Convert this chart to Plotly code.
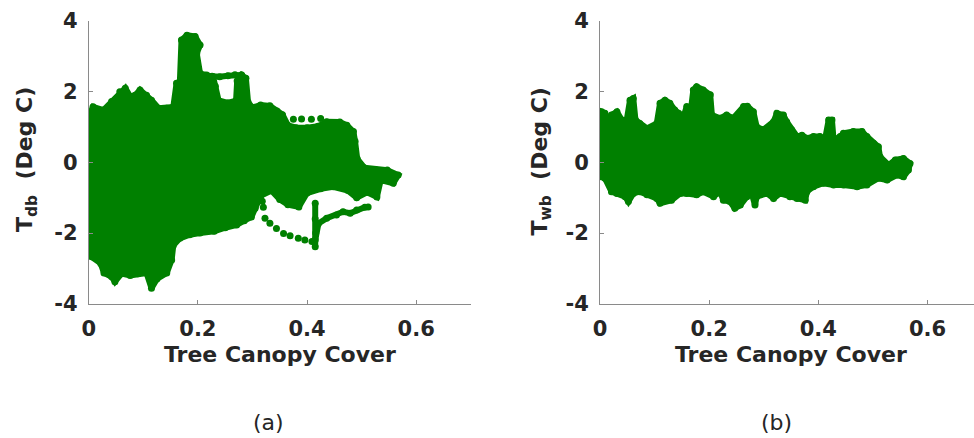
import plotly.graph_objects as go

GREEN = "#008000"
AXIS = "#8a8a8a"
TEXT = "#262626"
FONT = "DejaVu Sans"

# ---- (a) dry-bulb temperature difference vs tree canopy cover ----
# dense core of the cloud, outline traced clockwise
a_core_x = [0.000, 0.008, 0.027, 0.042, 0.057, 0.067, 0.076, 0.085, 0.094, 0.106,
            0.115, 0.128, 0.143, 0.155, 0.161, 0.167, 0.170, 0.180, 0.195, 0.204,
            0.198, 0.204, 0.216, 0.228, 0.232, 0.238, 0.255, 0.270, 0.272, 0.280,
            0.288, 0.292, 0.300, 0.315, 0.332, 0.345, 0.355, 0.365, 0.380, 0.400,
            0.420, 0.436, 0.460, 0.473, 0.485, 0.488, 0.492, 0.505, 0.525, 0.547,
            0.567, 0.558, 0.535, 0.528, 0.510, 0.491, 0.475, 0.448, 0.425, 0.400,
            0.385, 0.365, 0.350, 0.335, 0.315, 0.305, 0.298, 0.285, 0.271, 0.250,
            0.230, 0.204, 0.185, 0.167, 0.155, 0.152, 0.143, 0.125, 0.115, 0.106,
            0.090, 0.076, 0.060, 0.048, 0.042, 0.028, 0.022, 0.005, 0.000, 0.000]
a_core_y = [1.30, 1.57, 1.48, 1.72, 2.00, 2.10, 1.86, 1.90, 2.05, 1.90,
            1.76, 1.53, 1.53, 1.57, 2.24, 2.28, 3.46, 3.60, 3.56, 3.32,
            3.08, 2.52, 2.47, 2.42, 2.15, 1.75, 1.68, 1.75, 2.30, 2.47,
            2.38, 1.70, 1.55, 1.62, 1.60, 1.45, 1.35, 1.05, 0.98, 0.98,
            1.02, 1.15, 1.14, 1.05, 0.87, 0.60, 0.10, -0.15, -0.20, -0.22,
            -0.36, -0.59, -0.50, -0.98, -0.85, -1.00, -0.80, -0.69, -0.75, -0.87,
            -1.26, -1.20, -1.05, -0.80, -0.95, -1.30, -1.55, -1.65, -1.77, -1.85,
            -1.95, -2.00, -2.05, -2.15, -2.35, -2.76, -3.13, -3.30, -3.56, -3.13,
            -3.15, -3.20, -3.15, -3.38, -3.24, -3.13, -2.86, -2.67, -2.50, 1.30]

# track closing the loop above the core near x = 0.25
a_loop_x = [0.226, 0.240, 0.255, 0.268, 0.280]
a_loop_y = [2.44, 2.42, 2.45, 2.48, 2.47]

# sparse dotted run descending to the right
a_arc_x = [0.318, 0.320, 0.323, 0.332, 0.344, 0.357, 0.369, 0.384, 0.396, 0.409]
a_arc_y = [-1.10, -1.27, -1.58, -1.72, -1.87, -2.01, -2.08, -2.15, -2.20, -2.24]

# dotted run above the right part of the core
a_row_x = [0.375, 0.390, 0.408, 0.425]
a_row_y = [1.22, 1.23, 1.22, 1.24]

# vertical run at x ~ 0.415
a_branch_x = [0.415, 0.415, 0.416, 0.415]
a_branch_y = [-1.16, -1.60, -2.00, -2.39]

# run climbing to the right from the vertical one
a_tail_x = [0.415, 0.421, 0.436, 0.454, 0.466, 0.479, 0.491, 0.506, 0.512]
a_tail_y = [-2.20, -1.73, -1.58, -1.49, -1.40, -1.44, -1.35, -1.27, -1.26]

# ---- (b) wet-bulb temperature difference vs tree canopy cover ----
b_core_x = [0.000, 0.003, 0.009, 0.015, 0.021, 0.031, 0.040, 0.049, 0.055, 0.061,
            0.065, 0.073, 0.086, 0.104, 0.110, 0.119, 0.128, 0.137, 0.144, 0.153,
            0.159, 0.165, 0.171, 0.177, 0.189, 0.202, 0.205, 0.220, 0.232, 0.244,
            0.263, 0.270, 0.281, 0.287, 0.299, 0.318, 0.324, 0.336, 0.342, 0.351,
            0.361, 0.370, 0.379, 0.391, 0.403, 0.412, 0.419, 0.425, 0.428, 0.440,
            0.446, 0.464, 0.480, 0.489, 0.501, 0.510, 0.513, 0.529, 0.541, 0.556,
            0.568, 0.565, 0.556, 0.544, 0.526, 0.510, 0.489, 0.471, 0.446, 0.428,
            0.409, 0.391, 0.379, 0.376, 0.361, 0.348, 0.330, 0.318, 0.306, 0.287,
            0.284, 0.278, 0.269, 0.257, 0.247, 0.238, 0.226, 0.220, 0.208, 0.189,
            0.177, 0.159, 0.147, 0.131, 0.110, 0.104, 0.086, 0.073, 0.061, 0.052,
            0.046, 0.031, 0.021, 0.009, 0.003, 0.000, 0.000]
b_core_y = [0.96, 1.43, 1.39, 1.01, 1.34, 1.43, 1.20, 1.20, 1.76, 1.81,
            1.20, 1.10, 0.96, 1.10, 1.67, 1.76, 1.67, 1.48, 1.39, 1.29,
            1.58, 1.29, 2.05, 2.14, 2.05, 1.91, 1.34, 1.25, 1.34, 1.25,
            1.58, 1.59, 1.43, 1.01, 0.92, 1.15, 1.39, 1.34, 1.15, 0.92,
            0.73, 0.77, 0.68, 0.73, 0.73, 0.63, 1.20, 1.20, 0.63, 0.73,
            0.82, 0.87, 0.87, 0.73, 0.54, 0.44, 0.16, -0.08, 0.07, 0.11,
            -0.03, -0.22, -0.41, -0.36, -0.50, -0.45, -0.64, -0.69, -0.64, -0.64,
            -0.59, -0.69, -0.83, -1.07, -1.02, -0.97, -0.88, -1.02, -0.88, -0.97,
            -1.21, -0.88, -0.97, -1.21, -1.30, -1.11, -1.07, -0.83, -0.97, -0.83,
            -0.92, -0.88, -0.88, -1.07, -1.16, -1.02, -0.92, -0.83, -0.88, -1.11,
            -0.97, -0.88, -0.83, -0.45, -0.41, -0.12, 0.96]

x_ticks = [0, 0.2, 0.4, 0.6]
x_tick_text = ["0", "0.2", "0.4", "0.6"]
y_ticks = [-4, -2, 0, 2, 4]
y_tick_text = ["-4", "-2", "0", "2", "4"]


def cloud(x, y, xa, ya):
    return go.Scatter(x=x, y=y, xaxis=xa, yaxis=ya, mode="lines+markers",
                      fill="toself", fillcolor=GREEN,
                      line=dict(color=GREEN, width=6),
                      marker=dict(color=GREEN, size=7),
                      showlegend=False, hoverinfo="skip")


def track(x, y, xa, ya, mode="lines+markers"):
    return go.Scatter(x=x, y=y, xaxis=xa, yaxis=ya, mode=mode,
                      line=dict(color=GREEN, width=6),
                      marker=dict(color=GREEN, size=7),
                      showlegend=False, hoverinfo="skip")


fig = go.Figure()
fig.add_trace(cloud(a_core_x, a_core_y, "x", "y"))
fig.add_trace(track(a_loop_x, a_loop_y, "x", "y"))
fig.add_trace(track(a_arc_x, a_arc_y, "x", "y", mode="markers"))
fig.add_trace(track(a_row_x, a_row_y, "x", "y", mode="markers"))
fig.add_trace(track(a_branch_x, a_branch_y, "x", "y"))
fig.add_trace(track(a_tail_x, a_tail_y, "x", "y"))
fig.add_trace(cloud(b_core_x, b_core_y, "x2", "y2"))

W, H = 974, 438
PX_PER_X = 545.8            # pixels per unit of canopy cover
A_LEFT, B_LEFT = 88.7, 600.0
Y_TOP, Y_BOT = 21.0, 303.7

tick_font = dict(family=FONT, size=21, color=TEXT, weight="bold")
axis_common = dict(showline=True, linecolor=AXIS, linewidth=1, mirror=False,
                   ticks="inside", ticklen=4, tickcolor=AXIS, tickwidth=1,
                   showgrid=False, zeroline=False, automargin=False,
                   tickfont=tick_font)

xa = dict(axis_common, tickvals=x_ticks, ticktext=x_tick_text, ticklabelstandoff=6)
ya = dict(axis_common, tickvals=y_ticks, ticktext=y_tick_text, range=[-4, 4],
          domain=[1 - Y_BOT / H, 1 - Y_TOP / H], ticklabelstandoff=6)

fig.update_layout(
    width=W, height=H,
    margin=dict(l=0, r=0, t=0, b=0),
    paper_bgcolor="white", plot_bgcolor="white",
    xaxis=dict(xa, domain=[A_LEFT / W, (A_LEFT + 0.7 * PX_PER_X) / W], range=[0, 0.7], anchor="y"),
    yaxis=dict(ya, anchor="x"),
    xaxis2=dict(xa, domain=[B_LEFT / W, 1.0], range=[0, (W - B_LEFT) / PX_PER_X], anchor="y2"),
    yaxis2=dict(ya, anchor="x2"),
)

title_font = dict(family=FONT, size=22, color=TEXT, weight="bold")
ann = []
for xref in ("x", "x2"):
    ann.append(dict(text="Tree Canopy Cover", xref=xref, x=0.35, yref="paper",
                    y=1 - 354 / H, xanchor="center", yanchor="middle",
                    showarrow=False, font=title_font))
ann.append(dict(text="T<sub>db</sub>  (Deg C)", xref="paper", x=26.0 / W, yref="paper",
                y=1 - 160 / H, textangle=-90, xanchor="center", yanchor="middle",
                showarrow=False, font=title_font))
ann.append(dict(text="T<sub>wb</sub>  (Deg C)", xref="paper", x=541.5 / W, yref="paper",
                y=1 - 162 / H, textangle=-90, xanchor="center", yanchor="middle",
                showarrow=False, font=title_font))
for label, cx in (("(a)", 268.0), ("(b)", 776.0)):
    ann.append(dict(text=label, xref="paper", x=cx / W, yref="paper", y=1 - 422 / H,
                    xanchor="center", yanchor="middle", showarrow=False,
                    font=dict(family=FONT, size=22, color=TEXT)))
fig.update_layout(annotations=ann)

fig.write_html("out.html")
